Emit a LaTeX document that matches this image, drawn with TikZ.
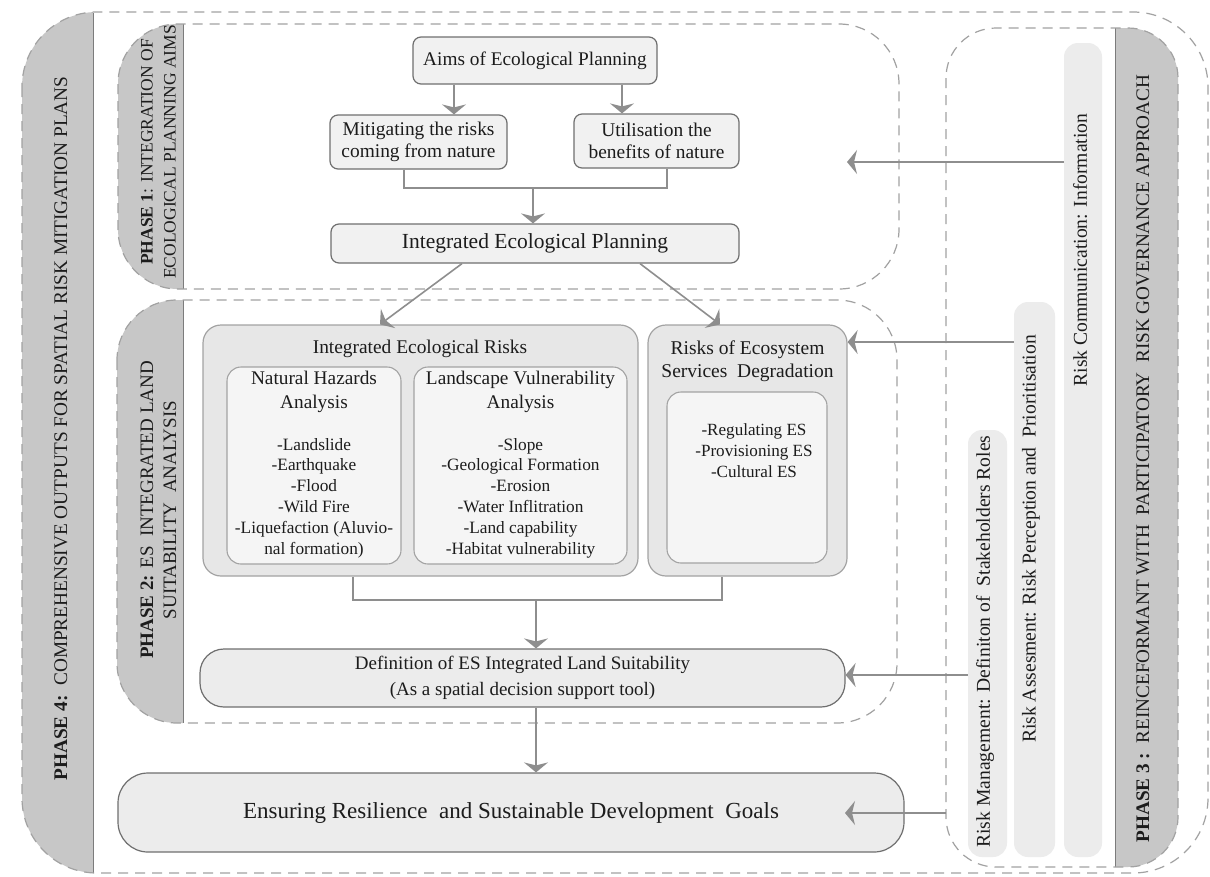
\documentclass[tikz,border=0pt]{standalone}
\usepackage{fontspec}
\setmainfont{Liberation Serif}
\usetikzlibrary{arrows.meta,calc}
\definecolor{boxline}{HTML}{6F6F6F}
\definecolor{boxfill}{HTML}{F1F1F1}
\definecolor{grpline}{HTML}{A3A3A3}
\definecolor{grpfill}{HTML}{E7E7E7}
\definecolor{infill}{HTML}{F5F5F5}
\definecolor{arrc}{HTML}{8E8E8E}
\definecolor{dashc}{HTML}{A2A2A2}
\definecolor{stripgray}{HTML}{C7C7C7}
\definecolor{stripline}{HTML}{7C7C7C}
\definecolor{barfill}{HTML}{ECECEC}
\definecolor{txtc}{HTML}{1C1C1C}
\begin{document}
\begin{tikzpicture}[x=1pt,y=-1pt,
  box/.style={draw=boxline, fill=boxfill, line width=1.2pt, rounded corners=8pt, inner sep=0pt, text=txtc, align=center},
  grpbox/.style={draw=grpline, fill=grpfill, line width=1.2pt, rounded corners=18pt, inner sep=0pt},
  inbox/.style={draw=grpline, fill=infill, line width=1.1pt, rounded corners=14pt, inner sep=0pt},
  bar/.style={fill=barfill, rounded corners=14pt, inner sep=0pt},
  arr/.style={draw=arrc, line width=1.6pt, -{Stealth[length=10pt,width=24pt,inset=3pt]}},
  link/.style={draw=arrc, line width=1.6pt},
  dashbox/.style={draw=dashc, line width=1.2pt, dash pattern=on 10pt off 7pt},
  stripedge/.style={draw=stripline, line width=1pt},
  txt/.style={text=txtc, inner sep=0pt, align=center},
  rot/.style={text=txtc, inner sep=0pt, align=center, rotate=90}
]
\useasboundingbox (0,0) rectangle (1210,876);
\fill[white] (0,0) rectangle (1210,876);

% ---------- Phase 4 outer frame
\begin{scope}
  \clip (22,12) rectangle (93,873);
  \fill[stripgray, rounded corners=75pt] (22,12) rectangle (1208,873);
\end{scope}
\draw[stripedge] (93,13) -- (93,873);
\draw[dashbox, rounded corners=75pt] (22,12) rectangle (1208,873);

% ---------- Phase 1 frame
\begin{scope}
  \clip (118,24) rectangle (183,289);
  \fill[stripgray, rounded corners=60pt] (118,24) rectangle (899,289);
\end{scope}
\draw[stripedge] (183,24) -- (183,289);
\draw[dashbox, rounded corners=60pt] (118,24) rectangle (899,289);

% ---------- Phase 2 frame
\begin{scope}
  \clip (117,300) rectangle (183,723);
  \fill[stripgray, rounded corners=60pt] (117,300) rectangle (897,723);
\end{scope}
\draw[stripedge] (183,300) -- (183,723);
\draw[dashbox, rounded corners=60pt] (117,300) rectangle (897,723);

% ---------- Phase 3 frame
\begin{scope}
  \clip (1115,28) rectangle (1178,867);
  \fill[stripgray, rounded corners=50pt] (946,28) rectangle (1178,867);
\end{scope}
\draw[stripedge] (1115,28) -- (1115,867);
\draw[dashbox, rounded corners=50pt] (946,28) rectangle (1178,867);

% ---------- Phase labels
\node[rot, font=\fontsize{19.3}{23}\selectfont] (p4T) at (61,428.5)
  {\textbf{PHASE 4:}\ \ COMPREHENSIVE OUTPUTS FOR SPATIAL RISK MITIGATION PLANS};
\node[rot, font=\fontsize{17.5}{23}\selectfont] (p1T) at (158.5,152)
  {\textbf{PHASE 1}: INTEGRATION OF\\ECOLOGICAL PLANNING AIMS};
\node[rot, font=\fontsize{19}{23}\selectfont] (p2T) at (158.5,510)
  {\textbf{PHASE 2:} ES\ \ INTEGRATED LAND\\SUITABILITY\ \ ANALYSIS};
\node[rot, font=\fontsize{19.2}{23}\selectfont] (p3T) at (1143,458.5)
  {\textbf{PHASE 3 :}\ \ REINCEFORMANT WITH\ \ PARTICIPATORY\ \ RISK GOVERNANCE APPROACH};

% ---------- Right bars
\node[bar, minimum width=39pt, minimum height=427pt] (rm) at (987.5,643.5) {};
\node[bar, minimum width=41pt, minimum height=555pt] (ra) at (1034.5,579.5) {};
\node[bar, minimum width=38pt, minimum height=814pt] (rc) at (1083,450) {};
\node[rot, font=\fontsize{19.6}{22}\selectfont] (rmT) at (985,641.5)
  {Risk Management: Definiton of\ \ Stakeholders Roles};
\node[rot, font=\fontsize{19.6}{22}\selectfont] (raT) at (1031,539)
  {Risk Assesment: Risk Perception and\ \ Prioritisation};
\node[rot, font=\fontsize{19.6}{22}\selectfont] (rcT) at (1080,250)
  {Risk Communication: Information};

% ---------- Phase 1 content
\node[box, minimum width=244pt, minimum height=47pt, font=\fontsize{19.3}{23}\selectfont] (aims) at (535,60.5) {Aims of Ecological Planning};
\node[box, minimum width=177pt, minimum height=54pt, font=\fontsize{19.4}{22}\selectfont] (mit) at (418.5,142) {Mitigating the risks\\coming from nature};
\node[box, minimum width=165pt, minimum height=54pt, font=\fontsize{19.4}{22}\selectfont] (util) at (656.5,141) {Utilisation the\\benefits of nature};
\node[box, minimum width=408pt, minimum height=39pt, font=\fontsize{21.5}{24}\selectfont] (iep) at (535,243.5) {Integrated Ecological Planning};

\draw[arr] (aims.south -| 454,0) -- (mit.north -| 454,0);
\draw[arr] (aims.south -| 622,0) -- (util.north -| 622,0);
\coordinate (jt) at (533,188);
\draw[link] (mit.south -| 404,0) |- (jt) -| (util.south -| 667,0);
\draw[arr] (jt) -- (iep.north -| jt);

% ---------- Phase 2 content
\node[grpbox, minimum width=435pt, minimum height=251pt] (ier) at (420.5,450.5) {};
\node[inbox, minimum width=174pt, minimum height=197pt] (nh) at (314,465.5) {};
\node[inbox, minimum width=213pt, minimum height=197pt] (lv) at (520.5,465.5) {};
\node[grpbox, minimum width=199pt, minimum height=251pt] (roe) at (747.5,450.5) {};
\node[inbox, minimum width=160pt, minimum height=171pt] (roein) at (747,477.5) {};

\node[txt, font=\fontsize{19.4}{23}\selectfont] (ierT) at (420,349) {Integrated Ecological Risks};
\node[txt, font=\fontsize{19.3}{24}\selectfont] (nhT) at (314,392) {Natural Hazards\\Analysis};
\node[txt, font=\fontsize{17.3}{20.8}\selectfont] (nhL) at (314,498)
  {-Landslide\\-Earthquake\\-Flood\\-Wild Fire\\-Liquefaction (Aluvio-\\nal formation)};
\node[txt, font=\fontsize{19.3}{24}\selectfont] (lvT) at (520.5,392) {Landscape Vulnerability\\Analysis};
\node[txt, font=\fontsize{17.3}{20.8}\selectfont] (lvL) at (520.5,498)
  {-Slope\\-Geological Formation\\-Erosion\\-Water Inflitration\\-Land capability\\-Habitat vulnerability};
\node[txt, font=\fontsize{19.5}{23}\selectfont] (roeT) at (747.5,361.5) {Risks of Ecosystem\\Services\ \ Degradation};
\node[txt, font=\fontsize{17.1}{21}\selectfont] (roeL) at (754,451) {-Regulating ES\\-Provisioning ES\\-Cultural ES};

\draw[arr] ([xshift=-73pt]iep.south) -- ([xshift=-40.5pt]ier.north);
\draw[arr] ([xshift=105pt]iep.south) -- ([xshift=-27.5pt]roe.north);

\node[box, rounded corners=24pt, fill=barfill, minimum width=645pt, minimum height=58pt, font=\fontsize{19}{25.5}\selectfont] (def) at (522.5,678)
  {Definition of ES Integrated Land Suitability\\(As a spatial decision support tool)};
\coordinate (jb) at (536,600);
\draw[link] ([xshift=-67.5pt]ier.south) |- (jb) -| ([xshift=-25.5pt]roe.south);
\draw[arr] (jb) -- (def.north -| jb);

% ---------- Phase 4 output
\node[box, rounded corners=30pt, fill=barfill, minimum width=786pt, minimum height=79pt, font=\fontsize{23}{26}\selectfont] (ens) at (511,812.5)
  {Ensuring Resilience\ \ and Sustainable Development\ \ Goals};
\draw[arr] (def.south -| jb) -- (ens.north -| jb);

% ---------- Feedback arrows from Phase 3
\coordinate (t1) at (847,162);
\draw[arr] (rc.west |- t1) -- (t1);
\draw[arr] (ra.west |- 0,342) -- (roe.east |- 0,342);
\draw[arr] (rm.west |- 0,675) -- (def.east |- 0,675);
\coordinate (p3e) at (946,813);
\coordinate (t4) at (845,813);
\draw[arr] (p3e) -- (t4);
\end{tikzpicture}
\end{document}
